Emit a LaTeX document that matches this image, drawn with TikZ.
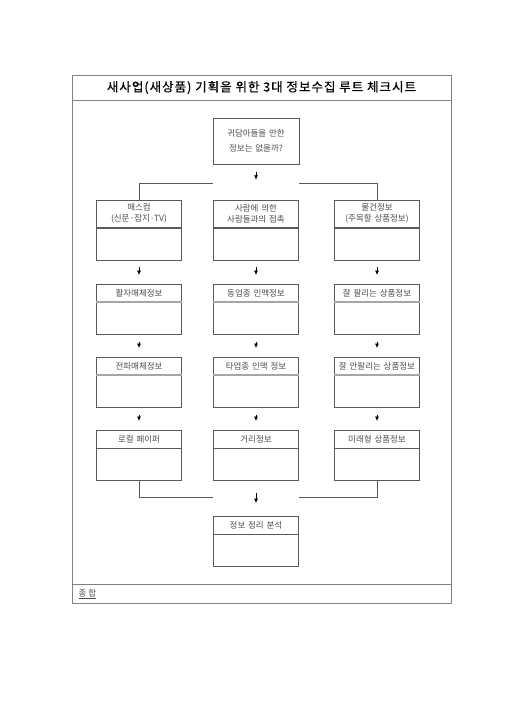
\documentclass[tikz,border=0pt]{standalone}
\usepackage{fontspec}
\usepackage{tikz}
\usetikzlibrary{arrows.meta}
\newfontfamily\kr{Noto Sans CJK KR}
\newfontfamily\krtitle[LetterSpace=8,FakeBold=0.6]{Noto Sans CJK KR}

\tikzset{
	frame/.style={draw=black!50, line width=0.8pt},
	hd/.style={draw=black!65, line width=0.6pt, text width=85pt, align=center, inner sep=0pt, minimum height=17.5pt, anchor=north, text=black!70, font=\kr\fontsize{8.5}{11}\selectfont},
	bd/.style={draw=black!65, line width=0.6pt, minimum width=85pt, minimum height=32pt, inner sep=0pt, anchor=north},
	arr/.style={-{Latex[length=4.5pt,width=4pt]}, line width=0.7pt, shorten <=7pt, shorten >=9pt},
	ln/.style={draw=black!65, line width=0.6pt},
	sep/.style={draw=black!35, line width=1.4pt}
}

\begin{document}
\begin{tikzpicture}[x=1pt, y=-1pt]
			\useasboundingbox (0,0) rectangle (504,713);
			% frame
			\draw [frame](72,75) rectangle (451,603);
			\draw [frame](72,100.7)--(451,100.7);
			\draw [frame](72,584)--(451,584);
			\node [font=\krtitle\fontsize{12.5}{15}\selectfont] (title) at (261.5,87.5) {새사업(새상품) 기획을 위한 3대 정보수집 루트 체크시트};
			\node [anchor=west, text=black!70, font=\kr\fontsize{8.5}{11}\selectfont] (sum) at (75,594) {\underline{종 합}};
			% start
			\node [hd, text width=86pt, minimum height=46pt, font=\kr\fontsize{8.5}{15}\selectfont] (top) at (256,118) {귀담아들을 만한\\정보는 없을까?};
			\coordinate (split) at (256,183.3);
			% row 1
			\node [hd, minimum height=27pt] (a1) at (139,200) {매스컴\\(신문·잡지·TV)};
			\node [hd, minimum height=27pt] (b1) at (256,200) {사람에 의한\\사람들과의 접촉};
			\node [hd, minimum height=27pt] (c1) at (377,200) {물건정보\\(주목할 상품정보)};
			\node [bd] (a1b) at (a1.south) {};
			\node [bd] (b1b) at (b1.south) {};
			\node [bd] (c1b) at (c1.south) {};
			% row 2
			\node [hd] (a2) at (139,284) {활자매체정보};
			\node [hd] (b2) at (256,284) {동업종 인맥정보};
			\node [hd] (c2) at (377,284) {잘 팔리는 상품정보};
			\node [bd] (a2b) at (a2.south) {};
			\node [bd] (b2b) at (b2.south) {};
			\node [bd] (c2b) at (c2.south) {};
			% row 3
			\node [hd] (a3) at (139,357) {전파매체정보};
			\node [hd] (b3) at (256,357) {타업종 인맥 정보};
			\node [hd] (c3) at (377,357) {잘 안팔리는 상품정보};
			\node [bd] (a3b) at (a3.south) {};
			\node [bd] (b3b) at (b3.south) {};
			\node [bd] (c3b) at (c3.south) {};
			% row 4
			\node [hd] (a4) at (139,430) {로컬 페이퍼};
			\node [hd] (b4) at (256,430) {거리정보};
			\node [hd] (c4) at (377,430) {미래형 상품정보};
			\node [bd] (a4b) at (a4.south) {};
			\node [bd] (b4b) at (b4.south) {};
			\node [bd] (c4b) at (c4.south) {};
			% end
			\coordinate (join) at (256,497.7);
			\node [hd] (fin) at (256,516) {정보 정리 분석};
			\node [bd] (finb) at (fin.south) {};
			% grey header rules
			\draw [sep](a2.south west)--(a2.south east);
			\draw [sep](b2.south west)--(b2.south east);
			\draw [sep](c2.south west)--(c2.south east);
			\draw [sep](a3.south west)--(a3.south east);
			\draw [sep](b3.south west)--(b3.south east);
			\draw [sep](c3.south west)--(c3.south east);
			% connectors
			\draw [arr, shorten >=3.5pt](top)--(split);
			\draw [ln](top.west |- split) -| (a1);
			\draw [ln](top.east |- split) -| (c1);
			\draw [arr](a1b)--(a2);
			\draw [arr](b1b)--(b2);
			\draw [arr](c1b)--(c2);
			\draw [arr](a2b)--(a3);
			\draw [arr](b2b)--(b3);
			\draw [arr](c2b)--(c3);
			\draw [arr](a3b)--(a4);
			\draw [arr](b3b)--(b4);
			\draw [arr](c3b)--(c4);
			\draw [ln](a4b) |- (fin.west |- join);
			\draw [ln](c4b) |- (fin.east |- join);
			\draw [arr, shorten <=0pt, shorten >=13pt]([yshift=5pt]join)--(fin);
		\end{tikzpicture}
\end{document}
